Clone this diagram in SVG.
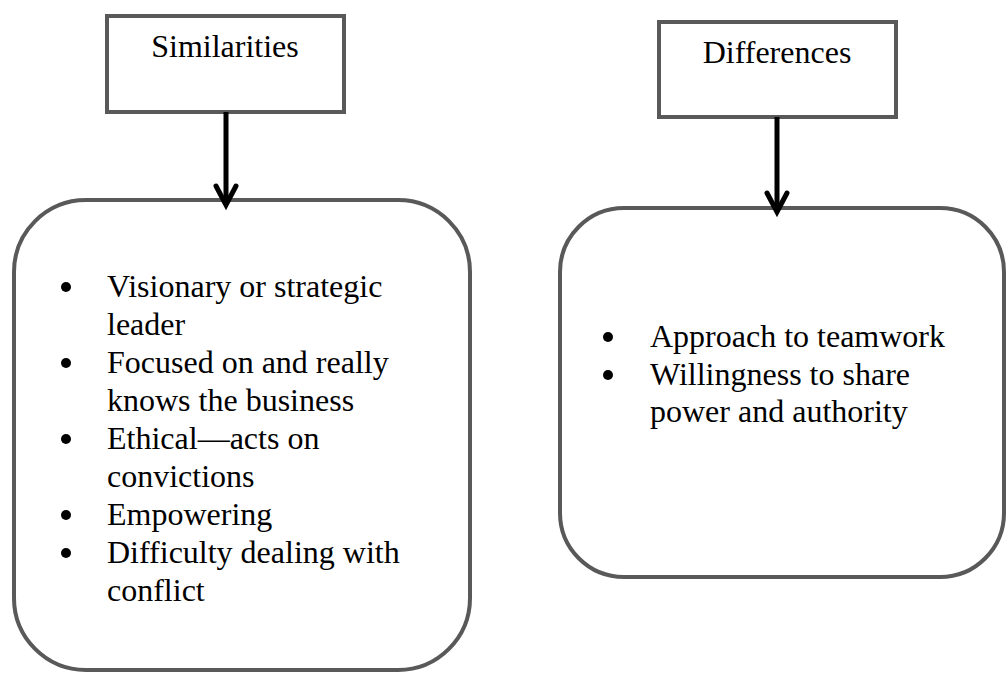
<svg xmlns="http://www.w3.org/2000/svg" width="1006" height="673" viewBox="0 0 1006 673">
<style>
.box{fill:#fff;stroke:#595959;stroke-width:4}
.t{font-family:"Liberation Serif","Times New Roman",serif;font-size:32px;fill:#000}
.conn{stroke:#000;stroke-width:5;fill:none}
.head{stroke:#000;stroke-width:5;fill:none;stroke-linecap:round;stroke-linejoin:miter}
.dot{fill:#000}
</style>
<rect width="1006" height="673" fill="#fff"/>
<g id="similarities">
<rect class="box" x="107" y="16" width="237" height="96"/>
<text class="t" x="225" y="57" text-anchor="middle">Similarities</text>
</g>
<g id="differences">
<rect class="box" x="659" y="22" width="237" height="95"/>
<text class="t" x="777" y="63" text-anchor="middle">Differences</text>
</g>
<g id="similarities-list">
<rect class="box" x="14" y="200" width="456" height="470" rx="72" ry="72"/>
<circle class="dot" cx="66" cy="287" r="5"/>
<circle class="dot" cx="66" cy="363" r="5"/>
<circle class="dot" cx="66" cy="439" r="5"/>
<circle class="dot" cx="66" cy="515" r="5"/>
<circle class="dot" cx="66" cy="553" r="5"/>
<text class="t" x="107" y="297">Visionary or strategic</text>
<text class="t" x="107" y="335">leader</text>
<text class="t" x="107" y="373">Focused on and really</text>
<text class="t" x="107" y="411">knows the business</text>
<text class="t" x="107" y="449">Ethical—acts on</text>
<text class="t" x="107" y="487">convictions</text>
<text class="t" x="107" y="525">Empowering</text>
<text class="t" x="107" y="563">Difficulty dealing with</text>
<text class="t" x="107" y="601">conflict</text>
</g>
<g id="differences-list">
<rect class="box" x="560" y="208" width="444" height="369" rx="64" ry="64"/>
<circle class="dot" cx="608" cy="337" r="5"/>
<circle class="dot" cx="608" cy="375" r="5"/>
<text class="t" x="650" y="347">Approach to teamwork</text>
<text class="t" x="650" y="385">Willingness to share</text>
<text class="t" x="650" y="422">power and authority</text>
</g>
<g id="connectors">
<line class="conn" x1="226" y1="112" x2="226" y2="203"/>
<polyline class="head" points="216,186 226,205 236,186"/>
<line class="conn" x1="777" y1="117" x2="777" y2="210"/>
<polyline class="head" points="767,193 777,212 787,193"/>
</g>
</svg>
